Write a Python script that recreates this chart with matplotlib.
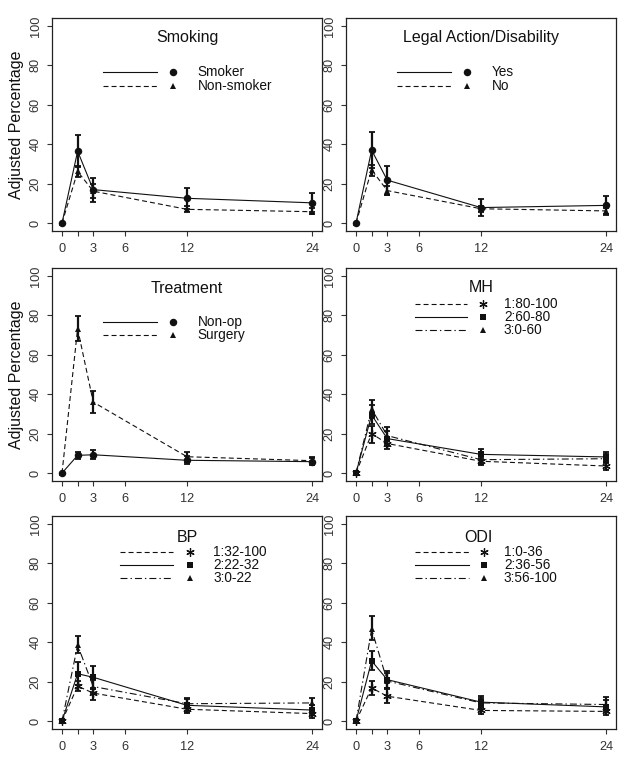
import matplotlib
matplotlib.use("Agg")
import matplotlib.pyplot as plt

plt.rcParams['font.family'] = ['Liberation Sans', 'DejaVu Sans']
plt.rcParams['lines.scale_dashes'] = False

months = [0, 1.5, 3, 12, 24]
xtick_pos = [0, 1.5, 3, 6, 12, 24]
xtick_labels = ['0', '', '3', '6', '12', '24']
ytick_pos = [0, 20, 40, 60, 80, 100]

# Smoking
smoker = [0, 36.5, 17.0, 12.6, 10.3]
smoker_lo = [0, 28.4, 10.8, 7.2, 5.4]
smoker_hi = [0, 44.7, 23.0, 18.0, 15.1]
nonsmoker = [0, 26.2, 16.2, 7.0, 5.8]
nonsmoker_lo = [0, 23.4, 12.6, 5.5, 4.4]
nonsmoker_hi = [0, 29.0, 19.6, 8.5, 7.6]

# Legal action / disability
legal_yes = [0, 37.0, 21.8, 7.9, 9.0]
legal_yes_lo = [0, 28.2, 14.5, 3.4, 4.2]
legal_yes_hi = [0, 46.2, 29.2, 12.2, 14.0]
legal_no = [0, 27.0, 16.5, 7.3, 6.2]
legal_no_lo = [0, 24.0, 14.5, 5.8, 4.6]
legal_no_hi = [0, 29.6, 19.0, 8.7, 7.6]

# Treatment
nonop = [0, 9.0, 9.3, 6.5, 5.8]
nonop_lo = [0, 7.2, 7.2, 4.5, 4.0]
nonop_hi = [0, 10.8, 11.5, 8.5, 7.8]
surgery = [0, 73.2, 36.0, 8.3, 6.3]
surgery_lo = [0, 66.8, 30.3, 5.8, 5.0]
surgery_hi = [0, 79.6, 41.8, 10.5, 8.0]

# MH
mh1 = [0, 20.0, 15.0, 6.0, 3.6]
mh1_lo = [0, 15.5, 12.0, 4.0, 1.5]
mh1_hi = [0, 24.0, 18.0, 8.0, 5.5]
mh2 = [0, 29.5, 17.5, 9.5, 8.2]
mh2_lo = [0, 25.0, 13.5, 7.0, 6.0]
mh2_hi = [0, 34.5, 21.5, 12.3, 10.5]
mh3 = [0, 32.5, 19.0, 6.8, 7.3]
mh3_lo = [0, 28.0, 15.0, 4.5, 5.0]
mh3_hi = [0, 37.0, 23.3, 9.0, 9.5]

# BP
bp1 = [0, 17.7, 14.2, 6.0, 3.8]
bp1_lo = [0, 15.0, 10.8, 4.5, 1.8]
bp1_hi = [0, 20.2, 17.0, 7.8, 5.8]
bp2 = [0, 24.0, 22.2, 8.0, 5.6]
bp2_lo = [0, 18.5, 16.5, 4.3, 3.2]
bp2_hi = [0, 29.7, 28.0, 11.8, 8.2]
bp3 = [0, 38.5, 17.5, 8.8, 9.2]
bp3_lo = [0, 34.5, 14.0, 6.5, 6.8]
bp3_hi = [0, 43.0, 21.0, 11.0, 11.8]

# ODI
odi1 = [0, 16.8, 12.6, 5.4, 4.9]
odi1_lo = [0, 13.4, 9.2, 3.4, 2.9]
odi1_hi = [0, 20.2, 16.8, 7.6, 6.7]
odi2 = [0, 30.5, 21.0, 9.6, 7.2]
odi2_lo = [0, 26.0, 16.8, 6.7, 4.5]
odi2_hi = [0, 35.3, 25.2, 12.6, 10.5]
odi3 = [0, 46.5, 20.3, 9.2, 8.4]
odi3_lo = [0, 41.0, 16.5, 7.0, 5.5]
odi3_hi = [0, 53.3, 24.5, 11.5, 12.2]

DASHED = (0, (3.6, 2.2))
DASHDOT = (0, (5.0, 2.2, 1.0, 2.2))
SOLID = '-'
ASTER = (6, 2, 0)

INK = '#111111'
TICK_INK = '#333333'


def marker_kw(m):
    if m == ASTER:
        return dict(marker=m, markersize=6, markeredgewidth=0.9,
                    markeredgecolor=INK, markerfacecolor=INK)
    size = {'o': 5.4, '^': 4.8, 's': 5.0}[m]
    return dict(marker=m, markersize=size, markeredgewidth=0,
                markerfacecolor=INK)


def draw_panel(ax, title, series, legend_pos, ylabel=False):
    # series: list of (vals, lo, hi, linestyle, marker, label)
    n = len(series)
    for i, (vals, lo, hi, ls, mk, lab) in enumerate(series):
        z = 3 + (n - i)
        ax.plot(months, vals, color=INK, linestyle=ls, linewidth=0.8, zorder=z)
        ax.errorbar(months[1:], vals[1:],
                    yerr=[[v - l for v, l in zip(vals[1:], lo[1:])],
                          [h - v for v, h in zip(vals[1:], hi[1:])]],
                    fmt='none', ecolor=INK, elinewidth=1.6, capsize=2.0,
                    capthick=1.3, zorder=z)
        ax.plot(months, vals, linestyle='none', zorder=z + 0.5, **marker_kw(mk))

    tx, ty, rows, lx0, lx1, mx, txt_x = legend_pos
    ax.text(tx, ty, title, ha='center', va='center', fontsize=11.5, color=INK)
    for (vals, lo, hi, ls, mk, lab), ry in zip(series, rows):
        ax.plot([lx0, lx1], [ry, ry], color=INK, linestyle=ls, linewidth=0.8)
        ax.plot([mx], [ry], linestyle='none', **marker_kw(mk))
        ax.text(txt_x, ry, lab, ha='left', va='center', fontsize=9.8, color=INK)

    ax.set_xlim(-0.96, 24.96)
    ax.set_ylim(-4, 104)
    ax.set_xticks(xtick_pos)
    ax.set_xticklabels(xtick_labels)
    ax.set_yticks(ytick_pos)
    ax.set_yticklabels([str(v) for v in ytick_pos], rotation=90, va='center')
    ax.tick_params(axis='both', length=3.5, width=0.8, color=TICK_INK,
                   labelsize=9.2, labelcolor=TICK_INK)
    ax.tick_params(axis='x', pad=5)
    ax.tick_params(axis='y', pad=4)
    for sp in ax.spines.values():
        sp.set_linewidth(0.9)
        sp.set_color('#222222')
    if ylabel:
        ax.set_ylabel('Adjusted Percentage', fontsize=11.5, color=INK)
        ax.yaxis.set_label_coords(-0.103, 0.5)


fig = plt.figure(figsize=(6.25, 7.63), dpi=100)
W = 0.432
H = 0.2792
cols = [0.0832, 0.5536]
rows_b = [0.6972, 0.3696, 0.0446]

ax1 = fig.add_axes([cols[0], rows_b[0], W, H])
ax2 = fig.add_axes([cols[1], rows_b[0], W, H])
ax3 = fig.add_axes([cols[0], rows_b[1], W, H])
ax4 = fig.add_axes([cols[1], rows_b[1], W, H])
ax5 = fig.add_axes([cols[0], rows_b[2], W, H])
ax6 = fig.add_axes([cols[1], rows_b[2], W, H])

two_rows = [76.8, 69.4]

draw_panel(ax1, 'Smoking',
           [(smoker, smoker_lo, smoker_hi, SOLID, 'o', 'Smoker'),
            (nonsmoker, nonsmoker_lo, nonsmoker_hi, DASHED, '^', 'Non-smoker')],
           (12, 94, two_rows, 3.9, 9.1, 10.7, 13.0), ylabel=True)
draw_panel(ax2, 'Legal Action/Disability',
           [(legal_yes, legal_yes_lo, legal_yes_hi, SOLID, 'o', 'Yes'),
            (legal_no, legal_no_lo, legal_no_hi, DASHED, '^', 'No')],
           (12, 94, two_rows, 3.9, 9.1, 10.7, 13.0))
draw_panel(ax3, 'Treatment',
           [(nonop, nonop_lo, nonop_hi, SOLID, 'o', 'Non-op'),
            (surgery, surgery_lo, surgery_hi, DASHED, '^', 'Surgery')],
           (12, 93.8, [76.6, 70.2], 3.9, 9.1, 10.7, 13.0), ylabel=True)
draw_panel(ax4, 'MH',
           [(mh2, mh2_lo, mh2_hi, SOLID, 's', '2:60-80'),
            (mh1, mh1_lo, mh1_hi, DASHED, ASTER, '1:80-100'),
            (mh3, mh3_lo, mh3_hi, DASHDOT, '^', '3:0-60')],
           (12, 94.2, [79.1, 85.8, 72.6], 5.7, 10.7, 12.2, 14.2))
draw_panel(ax5, 'BP',
           [(bp2, bp2_lo, bp2_hi, SOLID, 's', '2:22-32'),
            (bp1, bp1_lo, bp1_hi, DASHED, ASTER, '1:32-100'),
            (bp3, bp3_lo, bp3_hi, DASHDOT, '^', '3:0-22')],
           (12, 93.3, [79.1, 85.8, 72.6], 5.6, 10.7, 12.3, 14.5))
draw_panel(ax6, 'ODI',
           [(odi2, odi2_lo, odi2_hi, SOLID, 's', '2:36-56'),
            (odi1, odi1_lo, odi1_hi, DASHED, ASTER, '1:0-36'),
            (odi3, odi3_lo, odi3_hi, DASHDOT, '^', '3:56-100')],
           (11.8, 93.3, [79.1, 85.8, 72.6], 5.7, 10.8, 12.3, 14.2))

fig.savefig('out.png', dpi=100)
